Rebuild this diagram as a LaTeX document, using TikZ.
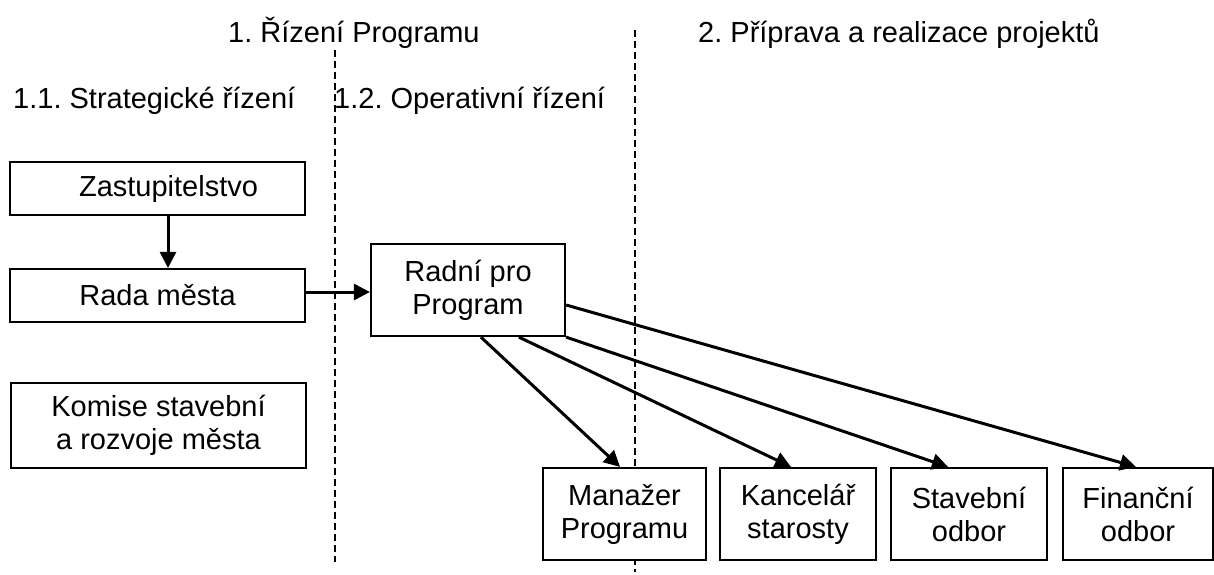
\documentclass[tikz,border=0pt]{standalone}
\usepackage{fontspec}
\setmainfont{Liberation Sans}
\usetikzlibrary{arrows.meta}
\frenchspacing
\begin{document}
\begin{tikzpicture}[x=1pt,y=-1pt,
  every node/.style={font=\fontsize{29}{33}\selectfont},
  box/.style={draw=black, line width=2.2pt, fill=white, inner sep=0pt, align=center},
  conn/.style={line width=3pt, -{Triangle[length=16pt,width=16pt]}},
  divider/.style={line width=1.6pt, dash pattern=on 7pt off 4pt},
  heading/.style={anchor=base west, inner sep=0pt}]
\useasboundingbox (0,0) rectangle (1214,574);
% dividers
\coordinate (d1top) at (335,50);
\coordinate (d1bot) at (335,562);
\coordinate (d2top) at (635,30);
\coordinate (d2bot) at (635,572);
\draw[divider] (d1top) -- (d1bot);
\draw[divider] (d2top) -- (d2bot);
% headings
\node[heading] (h1) at (228,42) {1. Řízení Programu};
\node[heading] (h2) at (698,42) {2. Příprava a realizace projektů};
\node[heading] (h11) at (13,108) {1.1. Strategické řízení};
\node[heading] (h12) at (334,108) {1.2. Operativní řízení};
% boxes
\node[box, minimum width=295pt, minimum height=53pt] (zast) at (157.5,188.5) {\hspace*{22pt}Zastupitelstvo};
\node[box, minimum width=295pt, minimum height=53pt] (rada) at (157.5,295.5) {Rada města};
\node[box, minimum width=295pt, minimum height=85pt] (komise) at (158.5,425.5) {Komise stavební\\a rozvoje města};
\node[box, minimum width=194pt, minimum height=92pt] (radni) at (468,290) {Radní pro\\Program};
\node[box, minimum width=163pt, minimum height=92pt] (manazer) at (624.5,514) {Manažer\\Programu};
\node[box, minimum width=156pt, minimum height=92pt] (kancelar) at (798,514) {Kancelář\\starosty};
\node[box, minimum width=156pt, minimum height=92pt] (stavebni) at (969,514) {Stavební\\odbor};
\node[box, minimum width=150pt, minimum height=92pt] (financni) at (1138,514) {Finanční\\odbor};
% connectors
\draw[conn] ([xshift=10.5pt]zast.south) -- ([xshift=10.5pt]rada.north);
\draw[conn] ([yshift=3.5pt]rada.east) -- ([yshift=-2pt]radni.west);
\draw[conn] ([xshift=111pt]radni.south west) -- ([xshift=-4.5pt]manazer.north);
\draw[conn] ([xshift=149pt]radni.south west) -- ([xshift=-7pt]kancelar.north);
\draw[conn] (radni.south east) -- ([xshift=-21pt]stavebni.north);
\draw[conn] ([yshift=-15pt]radni.east) -- ([xshift=-2pt]financni.north);
\end{tikzpicture}
\end{document}
